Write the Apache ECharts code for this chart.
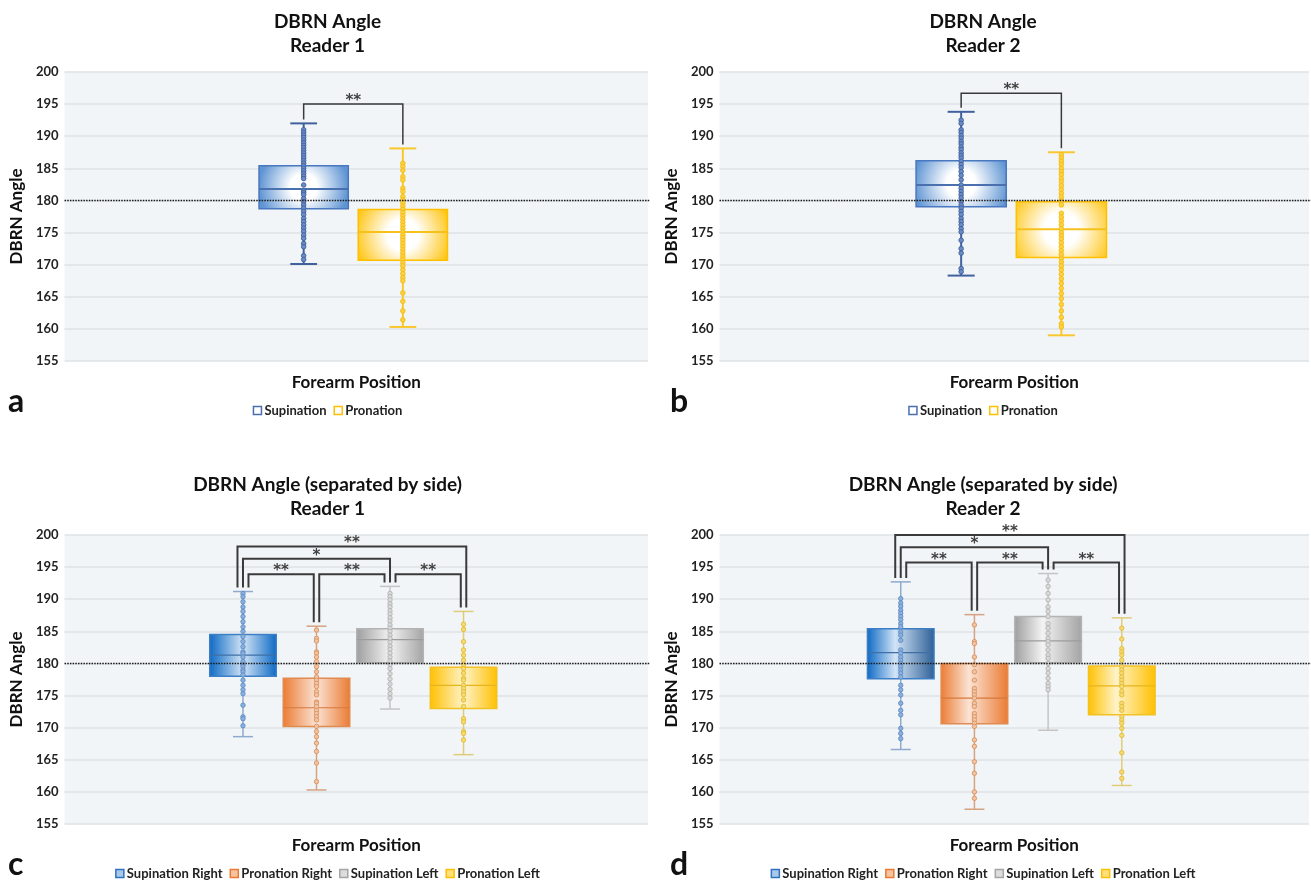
<!DOCTYPE html>
<html><head><meta charset="utf-8">
<script src="https://cdn.jsdelivr.net/npm/echarts@6.0.0/dist/echarts.min.js"></script>
<style>
html,body{margin:0;padding:0;background:#fff;width:1311px;height:883px;overflow:hidden;position:relative}
.p{position:absolute}
</style></head>
<body>
<div id="pa" class="p" style="left:0;top:0;width:655px;height:441px"></div>
<div id="pb" class="p" style="left:655px;top:0;width:656px;height:441px"></div>
<div id="pc" class="p" style="left:0;top:463px;width:655px;height:420px"></div>
<div id="pd" class="p" style="left:655px;top:463px;width:656px;height:420px"></div>
<script>
// ---------------- DATA ----------------
const yMin = 155, yMax = 200, yStep = 5;
const referenceAngle = 180;
const xCategory = ['Forearm Position'];

// box summaries: [low whisker, Q1, median, Q3, high whisker]
const r1SupBox = [170.1, 178.7, 181.8, 185.4, 192.0];
const r1ProBox = [160.3, 170.7, 175.1, 178.6, 188.1];
const r2SupBox = [168.3, 179.0, 182.4, 186.2, 193.8];
const r2ProBox = [159.0, 171.1, 175.5, 179.8, 187.5];

const r1SupRightBox = [168.6, 178.0, 181.3, 184.5, 191.2];
const r1ProRightBox = [160.3, 170.2, 173.1, 177.7, 185.8];
const r1SupLeftBox  = [172.9, 180.1, 183.7, 185.4, 192.0];
const r1ProLeftBox  = [165.8, 173.0, 176.6, 179.4, 188.1];

const r2SupRightBox = [166.6, 177.6, 181.7, 185.4, 192.7];
const r2ProRightBox = [157.3, 170.6, 174.6, 180.0, 187.6];
const r2SupLeftBox  = [169.6, 180.1, 183.5, 187.3, 194.0];
const r2ProLeftBox  = [161.0, 172.0, 176.5, 179.6, 187.1];

// individual measurements
const r1SupPoints = [191.0, 190.6, 190.2, 189.8, 189.4, 189.0, 188.6, 188.2, 187.8, 187.4, 187.0, 186.6, 186.2, 185.8, 185.4, 185.0, 184.6, 184.2, 183.8, 183.4, 182.4, 181.5, 181.2, 180.9, 180.3, 179.8, 179.3, 178.8, 178.3, 177.8, 177.2, 176.7, 176.2, 175.7, 175.2, 174.6, 174.1, 173.3, 172.8, 171.4, 170.8];
const r1ProPoints = [185.8, 185.3, 184.7, 183.7, 183.2, 181.9, 181.4, 180.6, 180.1, 179.6, 179.1, 178.6, 178.1, 177.6, 177.1, 176.6, 176.1, 175.6, 175.1, 174.6, 174.2, 173.8, 173.3, 172.8, 172.3, 171.8, 171.3, 170.8, 170.3, 169.8, 169.2, 168.6, 168.0, 167.5, 165.6, 164.3, 162.8, 161.4];
const r2SupPoints = [192.5, 192.0, 191.0, 190.6, 190.1, 189.7, 189.2, 188.8, 188.3, 187.9, 187.4, 187.0, 186.6, 186.1, 185.6, 185.1, 184.5, 183.9, 183.2, 182.4, 181.9, 181.4, 180.9, 180.4, 179.8, 179.3, 178.8, 178.3, 177.8, 177.2, 176.7, 176.2, 175.6, 175.1, 173.8, 172.5, 171.8, 169.4, 168.9];
const r2ProPoints = [187.1, 186.6, 186.1, 185.6, 185.0, 184.5, 184.0, 183.4, 182.9, 182.3, 181.7, 181.1, 180.5, 179.9, 179.3, 178.0, 177.4, 176.8, 176.2, 175.6, 175.0, 174.5, 174.0, 173.4, 172.8, 172.2, 171.6, 171.0, 170.4, 169.8, 169.2, 168.5, 167.8, 167.1, 166.3, 165.5, 164.7, 163.8, 162.8, 161.8, 160.8, 160.3];

const r1SupRightPoints = [190.9, 190.4, 189.6, 188.8, 188.1, 187.3, 186.5, 185.7, 185.0, 184.2, 183.4, 182.6, 181.8, 181.6, 181.0, 180.3, 179.8, 179.5, 179.0, 178.7, 178.2, 177.4, 176.6, 175.9, 175.3, 173.5, 171.7, 171.4, 170.3];
const r1ProRightPoints = [185.2, 183.9, 183.5, 181.8, 181.6, 181.0, 180.3, 179.5, 178.7, 177.9, 177.4, 176.9, 176.4, 175.6, 175.1, 174.0, 173.8, 173.3, 172.7, 172.2, 171.7, 171.2, 170.2, 169.4, 168.6, 167.6, 166.3, 164.5, 161.6];
const r1SupLeftPoints  = [190.9, 190.4, 189.9, 189.3, 188.8, 188.2, 187.7, 187.1, 186.6, 186.0, 185.5, 185.0, 184.4, 183.9, 183.3, 182.7, 182.2, 181.6, 181.0, 180.4, 179.8, 179.2, 178.4, 177.6, 176.8, 176.0, 175.3, 174.6];
const r1ProLeftPoints  = [186.1, 185.3, 183.4, 182.1, 181.3, 180.5, 179.8, 179.2, 178.5, 177.7, 177.4, 176.6, 176.1, 175.6, 175.1, 174.3, 173.3, 171.4, 170.9, 169.4, 169.1, 168.1];

const r2SupRightPoints = [190.1, 189.4, 188.9, 188.3, 187.8, 187.3, 186.8, 186.2, 185.7, 184.9, 184.4, 183.6, 182.1, 181.6, 181.0, 180.5, 180.0, 179.5, 179.0, 178.5, 177.9, 176.6, 175.9, 175.1, 173.8, 172.7, 172.0, 169.9, 169.1, 168.3];
const r2ProRightPoints = [186.0, 183.4, 183.1, 181.0, 179.8, 178.7, 177.4, 176.1, 175.6, 175.1, 174.6, 173.8, 173.3, 172.2, 171.7, 171.2, 170.7, 170.2, 168.1, 167.1, 164.7, 162.9, 160.0, 159.0];
const r2SupLeftPoints  = [193.0, 192.0, 190.9, 189.9, 188.8, 188.1, 187.3, 186.2, 185.5, 184.7, 183.9, 183.4, 182.9, 182.1, 181.3, 180.8, 180.0, 179.2, 178.5, 177.7, 176.9, 176.4, 175.9];
const r2ProLeftPoints  = [185.5, 183.8, 182.3, 181.8, 181.3, 180.5, 179.5, 179.0, 178.5, 177.9, 177.4, 176.9, 176.4, 175.6, 175.1, 173.8, 173.3, 172.7, 171.7, 171.2, 170.7, 169.9, 168.8, 166.1, 163.1, 162.1];

// significance brackets: [from group, to group, level (deg), label]
const r1Brackets = [[0, 1, 195.0, '**']];
const r2Brackets = [[0, 1, 196.7, '**']];
const r1SideBrackets = [[0, 3, 198.2, '**'], [0, 2, 196.3, '*'], [0, 1, 193.9, '**'], [1, 2, 193.9, '**'], [2, 3, 193.9, '**']];
const r2SideBrackets = [[0, 3, 200.0, '**'], [0, 2, 198.1, '*'], [0, 1, 195.7, '**'], [1, 2, 195.7, '**'], [2, 3, 195.7, '**']];

// ---------------- STYLES ----------------
const FONT = 'Lato';
const supStyle = {grad:'radial', stops:[[0,'#ffffff'],[0.3,'#ffffff'],[1,'#5f95d3']], border:'#4a78c0', whisker:'#41619e', median:'#4a70b0', dot:'#6a8cc6', dotStroke:'#3f5f9c', legend:'#ffffff', legendBorder:'#4a6fae'};
const proStyle = {grad:'radial', stops:[[0,'#ffffff'],[0.3,'#ffffff'],[1,'#ffc000']], border:'#ffc000', whisker:'#f9c82e', median:'#f7c11c', dot:'#ffd040', dotStroke:'#f2bc10', legend:'#ffffff', legendBorder:'#ffc000'};

function sideStyles(peak, rightSR) {
  return [
    {grad:'linear', stops:[[0,'#0b68c4'],[peak,'#d2e4f6'],[1,rightSR]], border:'#3d7fc4', whisker:'#8eaacf', median:'#3f6fa5', dot:'#8cb0dc', dotStroke:'#5f8cc6', legend:'#a9c8ea', legendBorder:'#2f73c0'},
    {grad:'linear', stops:[[0,'#eb7b33'],[peak,'#fbe3d4'],[1,'#ea7a32']], border:'#e08b52', whisker:'#d6a282', median:'#d8783c', dot:'#f3c4a4', dotStroke:'#d9925f', legend:'#f6c3a0', legendBorder:'#ea7a32'},
    {grad:'linear', stops:[[0,'#9d9d9d'],[peak,'#f3f3f3'],[1,'#a3a3a3']], border:'#b3b3b3', whisker:'#c4c4c4', median:'#9c9c9c', dot:'#dadada', dotStroke:'#b2b2b2', legend:'#dddddd', legendBorder:'#a5a5a5'},
    {grad:'linear', stops:[[0,'#ffc000'],[peak,'#fff3c8'],[1,'#ffc000']], border:'#f2c224', whisker:'#dfcc7a', median:'#e8b41c', dot:'#f6da7a', dotStroke:'#e2bb2e', legend:'#ffe07a', legendBorder:'#ffc000'}
  ];
}
const sideC = sideStyles(0.5, '#0b68c4');
const sideD = sideStyles(0.42, '#2c5e95');

const panels = [
  {el:'pa', title:'DBRN Angle', sub:'Reader 1', letter:'a', letterX:8,
   grid:{left:60, top:72, width:588, height:289}, boxFrac:0.153, spacing:0.17, dotR:2.3, lineW:2, bracketW:1.5,
   groups:[{name:'Supination', box:r1SupBox, pts:r1SupPoints, style:supStyle},
           {name:'Pronation', box:r1ProBox, pts:r1ProPoints, style:proStyle}], brackets:r1Brackets},
  {el:'pb', title:'DBRN Angle', sub:'Reader 2', letter:'b', letterX:15,
   grid:{left:61, top:72, width:593, height:289}, boxFrac:0.153, spacing:0.17, dotR:2.3, lineW:2, bracketW:1.5,
   groups:[{name:'Supination', box:r2SupBox, pts:r2SupPoints, style:supStyle},
           {name:'Pronation', box:r2ProBox, pts:r2ProPoints, style:proStyle}], brackets:r2Brackets},
  {el:'pc', title:'DBRN Angle (separated by side)', sub:'Reader 1', letter:'c', letterX:8,
   grid:{left:60, top:72, width:588, height:289}, boxFrac:0.114, spacing:0.126, dotR:2.2, lineW:1.5, bracketW:2,
   groups:[{name:'Supination Right', box:r1SupRightBox, pts:r1SupRightPoints, style:sideC[0]},
           {name:'Pronation Right', box:r1ProRightBox, pts:r1ProRightPoints, style:sideC[1]},
           {name:'Supination Left', box:r1SupLeftBox, pts:r1SupLeftPoints, style:sideC[2]},
           {name:'Pronation Left', box:r1ProLeftBox, pts:r1ProLeftPoints, style:sideC[3]}], brackets:r1SideBrackets},
  {el:'pd', title:'DBRN Angle (separated by side)', sub:'Reader 2', letter:'d', letterX:15,
   grid:{left:61, top:72, width:593, height:289}, boxFrac:0.113, spacing:0.125, dotR:2.2, lineW:1.5, bracketW:2,
   groups:[{name:'Supination Right', box:r2SupRightBox, pts:r2SupRightPoints, style:sideD[0]},
           {name:'Pronation Right', box:r2ProRightBox, pts:r2ProRightPoints, style:sideD[1]},
           {name:'Supination Left', box:r2SupLeftBox, pts:r2SupLeftPoints, style:sideD[2]},
           {name:'Pronation Left', box:r2ProLeftBox, pts:r2ProLeftPoints, style:sideD[3]}], brackets:r2SideBrackets}
];

function legOffsets(brackets) {
  const per = {};
  brackets.forEach((b, bi) => {
    const span = b[1] - b[0];
    (per[b[0]] = per[b[0]] || []).push({bi, side:'from', span});
    (per[b[1]] = per[b[1]] || []).push({bi, side:'to', span});
  });
  const off = brackets.map(() => ({from:0, to:0}));
  Object.keys(per).forEach(g => {
    const list = per[g];
    const inc = list.filter(e => e.side === 'to').sort((a, b) => a.span - b.span);
    const out = list.filter(e => e.side === 'from').sort((a, b) => b.span - a.span);
    const ord = inc.concat(out);
    ord.forEach((e, k) => { off[e.bi][e.side] = k - (ord.length - 1) / 2; });
  });
  return off;
}

function makeFill(style) {
  if (style.grad === 'radial') {
    return new echarts.graphic.RadialGradient(0.5, 0.5, 1.0, style.stops.map(s => ({offset:s[0], color:s[1]})));
  }
  return new echarts.graphic.LinearGradient(0, 0, 1, 0, style.stops.map(s => ({offset:s[0], color:s[1]})));
}

function buildOption(p) {
  const n = p.groups.length;
  const xc = (api, gi) => api.coord([0, referenceAngle])[0] + (gi - (n - 1) / 2) * p.spacing * api.size([1, 0])[0] - 3;
  const series = [];
  p.groups.forEach((g, gi) => {
    series.push({
      type:'custom', name:g.name, data:[[0].concat(g.box)], encode:{x:0, y:[1,2,3,4,5]},
      itemStyle:{color:g.style.legendBorder},
      renderItem(params, api) {
        const band = api.size([1, 0])[0];
        const cx = xc(api, gi);
        const bw = p.boxFrac * band, cw = bw * 0.3;
        const y = i => api.coord([0, api.value(i)])[1];
        const yLo = y(1), yQ1 = y(2), yMed = y(3), yQ3 = y(4), yHi = y(5);
        const ls = {stroke:g.style.whisker, lineWidth:p.lineW};
        return {type:'group', children:[
          {type:'line', shape:{x1:cx, y1:yHi, x2:cx, y2:yLo}, style:ls},
          {type:'line', shape:{x1:cx - cw/2, y1:yHi, x2:cx + cw/2, y2:yHi}, style:ls},
          {type:'line', shape:{x1:cx - cw/2, y1:yLo, x2:cx + cw/2, y2:yLo}, style:ls},
          {type:'rect', shape:{x:cx - bw/2, y:yQ3, width:bw, height:yQ1 - yQ3}, style:{fill:makeFill(g.style), stroke:g.style.border, lineWidth:1.5}},
          {type:'line', shape:{x1:cx - bw/2, y1:yMed, x2:cx + bw/2, y2:yMed}, style:{stroke:g.style.median, lineWidth:p.lineW === 2 ? 2 : 1.2}}
        ]};
      }
    });
  });
  p.groups.forEach((g, gi) => {
    series.push({
      type:'custom', name:g.name, data:g.pts.map(v => [0, v]), encode:{x:0, y:1},
      itemStyle:{color:g.style.legendBorder},
      renderItem(params, api) {
        const cx = xc(api, gi);
        const cy = api.coord([0, api.value(1)])[1];
        return {type:'circle', shape:{cx, cy, r:p.dotR}, style:{fill:g.style.dot, stroke:g.style.dotStroke, lineWidth:0.9}};
      }
    });
  });
  series.push({
    type:'custom', name:'reference', silent:true, data:[[0, referenceAngle]], encode:{x:0, y:1},
    renderItem(params, api) {
      const cs = params.coordSys;
      const yy = Math.round(api.coord([0, api.value(1)])[1]) + 0.5;
      return {type:'line', shape:{x1:cs.x, y1:yy, x2:cs.x + cs.width + 2, y2:yy}, style:{stroke:'#1a1a1a', lineWidth:1.5, lineDash:[1.5, 1.2]}};
    }
  });
  const off = legOffsets(p.brackets);
  const legGap = 5.5;
  series.push({
    type:'custom', name:'significance', silent:true, clip:false,
    data:p.brackets.map(b => [0, b[2]]), encode:{x:0, y:1},
    renderItem(params, api) {
      const b = p.brackets[params.dataIndex];
      const o = off[params.dataIndex];
      const x1 = xc(api, b[0]) + o.from * legGap;
      const x2 = xc(api, b[1]) + o.to * legGap;
      const yL = api.coord([0, api.value(1)])[1];
      const y1 = api.coord([0, p.groups[b[0]].box[4]])[1] - 4;
      const y2 = api.coord([0, p.groups[b[1]].box[4]])[1] - 4;
      return {type:'group', children:[
        {type:'polyline', shape:{points:[[x1, y1], [x1, yL], [x2, yL], [x2, y2]]}, style:{stroke:'#3a3a3a', lineWidth:p.bracketW, fill:null}},
        {type:'text', x:(x1 + x2) / 2, y:yL - 3, style:{text:b[3], fill:'#404040', font:'bold 15px "DejaVu Sans"', align:'center', verticalAlign:'middle'}}
      ]};
    }
  });

  return {
    animation:false,
    textStyle:{fontFamily:FONT},
    title:{text:p.title, subtext:p.sub, left:'center', top:12, itemGap:5, padding:0,
      textStyle:{fontSize:19, fontWeight:'bold', color:'#111', fontFamily:FONT},
      subtextStyle:{fontSize:19, fontWeight:'bold', color:'#111', fontFamily:FONT}},
    legend:{left:'center', top:399, itemWidth:8, itemHeight:8, itemGap:7, selectedMode:false,
      textStyle:{fontWeight:'bold', fontSize:13, color:'#222', fontFamily:FONT, padding:[0,0,0,-2]},
      data:p.groups.map(g => ({name:g.name, icon:'rect', itemStyle:{color:g.style.legend, borderColor:g.style.legendBorder, borderWidth:1.5}}))},
    graphic:[{type:'text', left:p.letterX, top:386, style:{text:p.letter, font:'bold 32px ' + FONT, fill:'#111'}}],
    grid:Object.assign({show:true, backgroundColor:'#f2f5f7', borderWidth:0}, p.grid),
    xAxis:{type:'category', data:xCategory, axisLine:{show:false}, axisTick:{show:false}, axisLabel:{show:false},
      splitLine:{show:false}, name:'Forearm Position', nameLocation:'middle', nameGap:13,
      nameTextStyle:{fontSize:17, fontWeight:'bold', color:'#111', fontFamily:FONT}},
    yAxis:{type:'value', min:yMin, max:yMax, interval:yStep, axisLine:{show:false}, axisTick:{show:false},
      splitLine:{lineStyle:{color:'#dee2e5', width:1.5}},
      axisLabel:{color:'#222', fontWeight:'bold', fontSize:13, fontFamily:FONT, margin:6},
      name:'DBRN Angle', nameLocation:'middle', nameGap:34, nameRotate:90,
      nameTextStyle:{fontSize:17, fontWeight:'bold', color:'#111', fontFamily:FONT}},
    series
  };
}

panels.forEach(p => {
  const chart = echarts.init(document.getElementById(p.el), null, {renderer:'canvas'});
  chart.setOption(buildOption(p));
});
</script>
</body></html>
